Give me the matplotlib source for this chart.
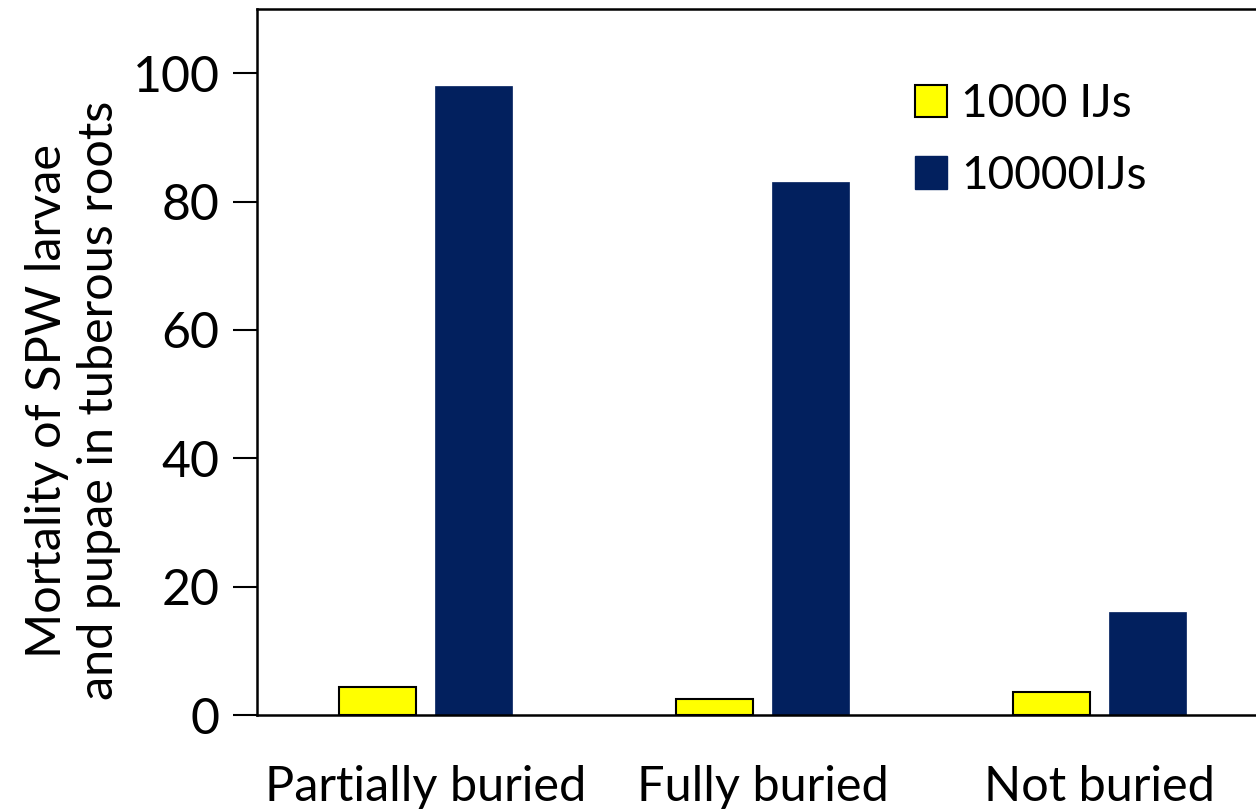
import numpy as np
import matplotlib
matplotlib.use("Agg")
import matplotlib.pyplot as plt
from matplotlib.patches import Patch

# Mortality (%) per burial treatment and nematode dose
treatments = ["Partially buried", "Fully buried", "Not buried"]
dose_labels = ["1000 IJs", "10000IJs"]
low_dose = [4.4, 2.5, 3.6]
high_dose = [98.0, 83.0, 16.0]

YELLOW = "#FFFF00"
NAVY = "#02205E"

plt.rcParams["font.family"] = ["Lato", "DejaVu Sans"]

fig = plt.figure(figsize=(12.56, 8.09), dpi=100)
ax = fig.add_axes([257 / 1256, 1 - 715 / 809, (1268 - 257) / 1256, (715 - 9) / 809])

x = np.arange(len(treatments))
width = 0.228
offset = 0.142

ax.bar(x - offset, low_dose, width, color=YELLOW, edgecolor="black", linewidth=1.5,
       label=dose_labels[0], zorder=2)
ax.bar(x + offset, high_dose, width, color=NAVY, edgecolor=NAVY, linewidth=0.5,
       label=dose_labels[1], zorder=2)

ax.set_xlim(-0.5, 2.5)
ax.set_ylim(0, 110)
ax.set_yticks([0, 20, 40, 60, 80, 100])
ax.set_xticks(x)
ax.set_xticklabels(treatments)

ax.tick_params(axis="y", direction="out", length=17, width=1.5, labelsize=36, pad=10)
ax.tick_params(axis="x", length=0, labelsize=35, pad=36)

for side in ["left", "top", "bottom", "right"]:
    ax.spines[side].set_linewidth(1.8)

ax.set_ylabel("Mortality of SPW larvae\nand pupae in tuberous roots", fontsize=35,
              linespacing=1.2)
ax.yaxis.set_label_coords(-0.135, 0.445)

handles = [
    Patch(facecolor=YELLOW, edgecolor="black", linewidth=1.5),
    Patch(facecolor=NAVY, edgecolor=NAVY),
]
ax.legend(handles, dose_labels, loc="upper left", bbox_to_anchor=(0.61, 0.954),
          frameon=False, fontsize=33, handlelength=0.7, handleheight=0.7,
          handletextpad=0.3, labelspacing=0.65)

fig.savefig("out.png", dpi=100)
